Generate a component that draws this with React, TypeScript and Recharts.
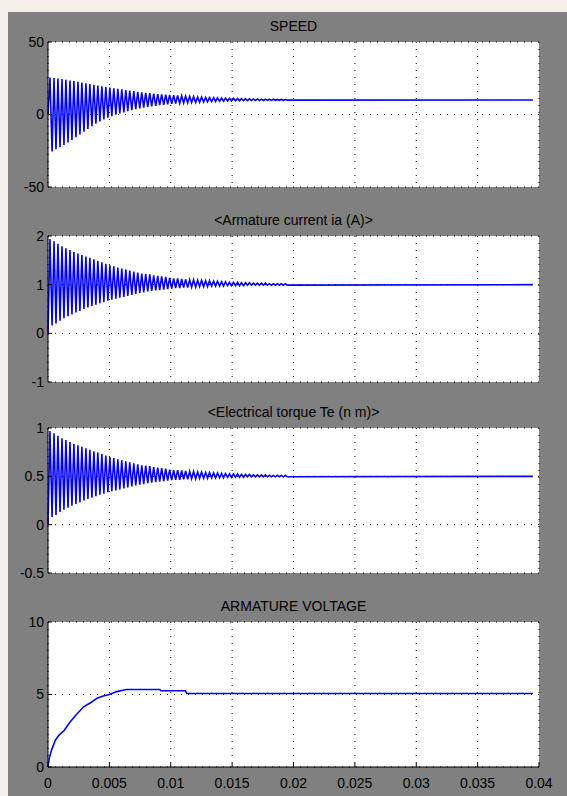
import { LineChart, Line, XAxis, YAxis, CartesianGrid } from "recharts";

// sample times (s) at each half cycle of the ripple, shared by speed, current and torque
const halfT = [
  0, 0.00016, 0.00033, 0.00049, 0.00065, 0.00081, 0.00098, 0.00114, 0.0013, 0.00146,
  0.00163, 0.00179, 0.00195, 0.00211, 0.00228, 0.00244, 0.0026, 0.00276, 0.00293, 0.00309,
  0.00325, 0.00341, 0.00358, 0.00374, 0.0039, 0.00406, 0.00423, 0.00439, 0.00455, 0.00471,
  0.00488, 0.00504, 0.0052, 0.00536, 0.00553, 0.00569, 0.00585, 0.00601, 0.00618, 0.00634,
  0.0065, 0.00666, 0.00683, 0.00699, 0.00715, 0.00731, 0.00748, 0.00764, 0.0078, 0.00796,
  0.00813, 0.00829, 0.00845, 0.00861, 0.00878, 0.00894, 0.0091, 0.00926, 0.00943, 0.00959,
  0.00975, 0.00991, 0.01008, 0.01024, 0.0104, 0.01056, 0.01073, 0.01089, 0.01105, 0.01121,
  0.01138, 0.01154, 0.0117, 0.01186, 0.01203, 0.01219, 0.01235, 0.01251, 0.01268, 0.01284,
  0.013, 0.01316, 0.01333, 0.01349, 0.01365, 0.01381, 0.01398, 0.01414, 0.0143, 0.01446,
  0.01463, 0.01479, 0.01495, 0.01511, 0.01528, 0.01544, 0.0156, 0.01576, 0.01593, 0.01609,
  0.01625, 0.01641, 0.01658, 0.01674, 0.0169, 0.01706, 0.01723, 0.01739, 0.01755, 0.01771,
  0.01788, 0.01804, 0.0182, 0.01836, 0.01853, 0.01869, 0.01885, 0.01901, 0.01918, 0.01934,
  0.0195,
];
const endT = 0.0395;

// ripple peaks / troughs
const speedHi = [
  25.5, 25.2, 24.8, 24.4, 24.0, 23.5, 23.0, 22.5, 22.0, 21.5,
  21.0, 20.5, 20.0, 19.5, 19.0, 18.5, 18.1, 17.7, 17.3, 16.9,
  16.5, 16.1, 15.7, 15.3, 15.0, 14.7, 14.4, 14.1, 13.9, 13.7,
  13.5, 13.3, 13.1, 12.9, 12.7, 12.5, 12.3, 12.1, 12.0, 11.8,
  11.7, 11.6, 11.5, 11.4, 11.3, 11.2, 11.1, 11.0, 10.9, 10.9,
  10.8, 10.7, 10.7, 10.6, 10.6, 10.5, 10.5, 10.4, 10.4, 10.3,
];
const speedLo = [
  -25.5, -24, -22.5, -21, -19.3, -17.5, -15.6, -13.7, -11.8, -9.9,
  -8.0, -6.3, -4.8, -3.4, -2.2, -1.1, -0.2, 0.7, 1.5, 2.3,
  3.0, 3.6, 4.2, 4.7, 5.2, 5.6, 6.0, 6.4, 6.7, 7.0,
  7.3, 7.5, 7.7, 7.9, 8.1, 8.3, 8.4, 8.5, 8.7, 8.8,
  8.9, 9.0, 9.1, 9.2, 9.3, 9.3, 9.4, 9.4, 9.5, 9.5,
  9.6, 9.6, 9.6, 9.7, 9.7, 9.7, 9.8, 9.8, 9.8, 9.9,
];
const currentHi = [
  1.94, 1.89, 1.84, 1.79, 1.75, 1.71, 1.67, 1.64, 1.61, 1.58,
  1.55, 1.52, 1.49, 1.46, 1.43, 1.4, 1.38, 1.35, 1.33, 1.31,
  1.29, 1.27, 1.25, 1.23, 1.22, 1.21, 1.19, 1.18, 1.17, 1.16,
  1.14, 1.13, 1.13, 1.12, 1.11, 1.1, 1.1, 1.09, 1.09, 1.08,
  1.08, 1.07, 1.07, 1.06, 1.06, 1.05, 1.05, 1.05, 1.04, 1.04,
  1.04, 1.03, 1.03, 1.03, 1.03, 1.02, 1.02, 1.02, 1.02, 1.02,
];
const currentLo = [
  0.16, 0.2, 0.26, 0.31, 0.35, 0.39, 0.43, 0.46, 0.5, 0.53,
  0.56, 0.59, 0.62, 0.64, 0.67, 0.69, 0.71, 0.73, 0.75, 0.77,
  0.79, 0.81, 0.83, 0.84, 0.86, 0.87, 0.88, 0.89, 0.9, 0.91,
  0.92, 0.93, 0.93, 0.94, 0.94, 0.95, 0.95, 0.96, 0.96, 0.96,
  0.97, 0.97, 0.97, 0.97, 0.98, 0.98, 0.98, 0.98, 0.98, 0.99,
  0.99, 0.99, 0.99, 0.99, 0.99, 0.99, 0.99, 0.99, 0.99, 0.99,
];
const torqueHi = [
  0.97, 0.945, 0.92, 0.895, 0.875, 0.855, 0.835, 0.82, 0.805, 0.79,
  0.775, 0.76, 0.745, 0.73, 0.715, 0.7, 0.69, 0.675, 0.665, 0.655,
  0.645, 0.635, 0.625, 0.615, 0.61, 0.605, 0.595, 0.59, 0.585, 0.58,
  0.57, 0.565, 0.565, 0.56, 0.555, 0.55, 0.55, 0.545, 0.545, 0.54,
  0.54, 0.535, 0.535, 0.53, 0.53, 0.525, 0.525, 0.525, 0.52, 0.52,
  0.52, 0.515, 0.515, 0.515, 0.515, 0.51, 0.51, 0.51, 0.51, 0.51,
];
const torqueLo = [
  0.08, 0.1, 0.13, 0.155, 0.175, 0.195, 0.215, 0.23, 0.25, 0.265,
  0.28, 0.295, 0.31, 0.32, 0.335, 0.345, 0.355, 0.365, 0.375, 0.385,
  0.395, 0.405, 0.415, 0.42, 0.43, 0.435, 0.44, 0.445, 0.45, 0.455,
  0.46, 0.465, 0.465, 0.47, 0.47, 0.475, 0.475, 0.48, 0.48, 0.48,
  0.485, 0.485, 0.485, 0.485, 0.49, 0.49, 0.49, 0.49, 0.49, 0.495,
  0.495, 0.495, 0.495, 0.495, 0.495, 0.495, 0.495, 0.495, 0.495, 0.495,
];
const speedEnd = 10;
const currentEnd = 1;
const torqueEnd = 0.5;

// armature voltage
const voltT = [
  0, 0.0001, 0.0003, 0.0006, 0.0009, 0.0013, 0.0018, 0.0023, 0.0029, 0.0035,
  0.004, 0.0045, 0.005, 0.0056, 0.0064, 0.0091, 0.0092, 0.0112, 0.0113, 0.0395,
];
const voltV = [
  0, 0.6, 1.2, 1.85, 2.2, 2.5, 3.1, 3.6, 4.15, 4.45,
  4.75, 4.9, 5.0, 5.2, 5.35, 5.35, 5.26, 5.26, 5.07, 5.07,
];

const xTicks = [0, 0.005, 0.01, 0.015, 0.02, 0.025, 0.03, 0.035, 0.04];
const speedTicks = [-50, 0, 50];
const currentTicks = [-1, 0, 1, 2];
const torqueTicks = [-0.5, 0, 0.5, 1];
const voltTicks = [0, 5, 10];

const W = 567;
const L = 48;
const R = 539;
const PAD = 12;

function ripple(hi: number[], lo: number[], end: number) {
  const rows = halfT.map((t, k) => ({
    t,
    v: k === 0 ? 0 : k % 2 ? hi[(k - 1) / 2] : lo[k / 2 - 1],
  }));
  rows.push({ t: endT, v: end });
  return rows;
}

const speedData = ripple(speedHi, speedLo, speedEnd);
const currentData = ripple(currentHi, currentLo, currentEnd);
const torqueData = ripple(torqueHi, torqueLo, torqueEnd);
const voltData = voltT.map((t, i) => ({ t, v: voltV[i] }));

const blank = () => "";
const tickFont = { fill: "#000", fontSize: 14 };

type PanelProps = {
  title: string;
  top: number;
  h: number;
  data: { t: number; v: number }[];
  ticks: number[];
  xLabels?: boolean;
};

function Panel({ title, top, h, data, ticks, xLabels }: PanelProps) {
  const xh = xLabels ? 28 : 0;
  const domain: [number, number] = [ticks[0], ticks[ticks.length - 1]];
  return (
    <>
      <div
        style={{
          position: "absolute",
          left: L,
          width: R - L,
          top: top - 24,
          textAlign: "center",
          fontSize: 14,
          lineHeight: "16px",
          color: "#000",
        }}
      >
        {title}
      </div>
      <div style={{ position: "absolute", left: 0, top: top - PAD }}>
        <LineChart
          width={W}
          height={h + 2 * PAD + xh}
          data={data}
          margin={{ top: PAD, right: W - R, bottom: PAD, left: 0 }}
        >
          <CartesianGrid fill="#fff" stroke="#000" strokeDasharray="1 6" />
          <XAxis
            dataKey="t"
            type="number"
            domain={[0, 0.04]}
            ticks={xTicks}
            interval={0}
            height={xh}
            tickSize={-4}
            tickMargin={15}
            tick={tickFont}
            tickFormatter={xLabels ? (v: number) => String(v) : blank}
            axisLine={{ stroke: "#000" }}
            tickLine={{ stroke: "#000" }}
          />
          <XAxis
            xAxisId="top"
            orientation="top"
            type="number"
            domain={[0, 0.04]}
            ticks={xTicks}
            interval={0}
            height={0}
            tickSize={-4}
            tickFormatter={blank}
            axisLine={{ stroke: "#000" }}
            tickLine={{ stroke: "#000" }}
          />
          <YAxis
            type="number"
            domain={domain}
            ticks={ticks}
            interval={0}
            width={L}
            tickSize={-4}
            tickMargin={8}
            tick={tickFont}
            tickFormatter={(v: number) => String(v)}
            axisLine={{ stroke: "#000" }}
            tickLine={{ stroke: "#000" }}
          />
          <YAxis
            yAxisId="r"
            orientation="right"
            type="number"
            domain={domain}
            ticks={ticks}
            interval={0}
            width={0}
            tickSize={-4}
            tickFormatter={blank}
            axisLine={{ stroke: "#000" }}
            tickLine={{ stroke: "#000" }}
          />
          <Line
            dataKey="v"
            type="linear"
            stroke="#0000ff"
            strokeWidth={1.6}
            dot={false}
            isAnimationActive={false}
          />
        </LineChart>
      </div>
    </>
  );
}

export default function App() {
  return (
    <div
      style={{
        position: "absolute",
        left: 0,
        top: 0,
        width: W,
        height: 796,
        background: "#f4efe9",
        fontFamily: "'Liberation Sans', Arial, sans-serif",
        overflow: "hidden",
      }}
    >
      <div
        style={{
          position: "absolute",
          left: 8,
          top: 12,
          width: W - 8,
          height: 784,
          background: "#808080",
        }}
      />
      <Panel title="SPEED" top={42} h={145} data={speedData} ticks={speedTicks} />
      <Panel title="<Armature current ia (A)>" top={236} h={146} data={currentData} ticks={currentTicks} />
      <Panel title="<Electrical torque Te (n m)>" top={428} h={145} data={torqueData} ticks={torqueTicks} />
      <Panel title="ARMATURE VOLTAGE" top={622} h={145} data={voltData} ticks={voltTicks} xLabels />
    </div>
  );
}
